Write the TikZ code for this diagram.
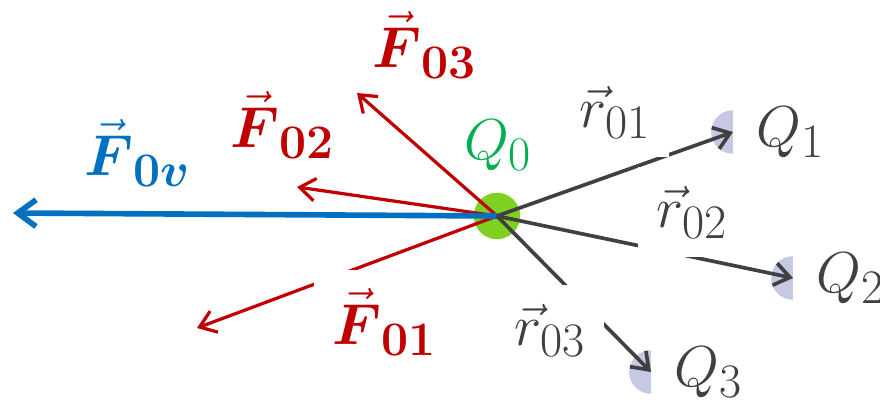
\documentclass[tikz,border=0pt]{standalone}
\usepackage{amsmath}
\usepackage{tikz}
\usetikzlibrary{arrows.meta}
\usepackage{xcolor}
\definecolor{myred}{RGB}{192, 0, 0}
\definecolor{myblue}{RGB}{0, 112, 192}
\definecolor{mygreen}{RGB}{0, 176, 80}
\definecolor{mylime}{RGB}{126, 208, 33}
\definecolor{mygray}{RGB}{64, 64, 64}
\definecolor{mylav}{RGB}{197, 201, 228}

\begin{document}
\begin{tikzpicture}[x=0.025cm, y=-0.025cm,
  lbl/.style={font=\Huge, scale=1.65, inner sep=0pt},
  lblw/.style={font=\Huge, scale=1.65, fill=white, inner sep=8pt},
  force/.style={draw=myred, line width=2.3pt, -{Straight Barb[length=11pt,width=16pt]}},
  dist/.style={draw=mygray, line width=2.6pt, -{Straight Barb[length=11pt,width=16pt]}},
  charge/.style={circle, fill=mylav, minimum size=31pt, inner sep=0pt}]

\useasboundingbox (0,0) rectangle (880,407);

% charges
\node[circle, fill=mylime, minimum size=33pt, inner sep=0pt] (q0) at (497,216) {};
\node[charge] (q1) at (733,132) {};
\node[charge] (q2) at (793,278) {};
\node[charge] (q3) at (651,372) {};

% tips of the forces
\coordinate (f0v) at (13,213);
\coordinate (f01) at (197,328);
\coordinate (f02) at (297,187);
\coordinate (f03) at (357,93);

\draw[force] (q0.center) -- (f01);
\draw[force] (q0.center) -- (f02);
\draw[force] (q0.center) -- (f03);
\draw[draw=myblue, line width=4pt, -{Straight Barb[length=13pt,width=19pt]}] (q0.center) -- (f0v);

\draw[dist] (q0.center) -- (q1.center);
\draw[dist] (q0.center) -- (q2.center);
\draw[dist] (q0.center) -- (q3.center);

% labels
\node[lbl, text=myred] (lf03) at (425,45) {$\vec{\boldsymbol{F}}_{\mathbf{03}}$};
\node[lbl, text=myred] (lf02) at (283,125) {$\vec{\boldsymbol{F}}_{\mathbf{02}}$};
\node[lbl, text=myblue] (lf0v) at (138,153) {$\vec{\boldsymbol{F}}_{\mathbf{0}\boldsymbol{v}}$};
\node[lblw, text=myred] (lf01) at (385,322) {$\vec{\boldsymbol{F}}_{\mathbf{01}}$};
\node[lbl, text=mygreen] (lq0) at (498,145) {$Q_0$};

\node[lblw, text=mygray] (lr01) at (615,112) {$\vec{r}_{01}$};
\node[lblw, text=mygray] (lr02) at (692,212) {$\vec{r}_{02}$};
\node[lblw, text=mygray] (lr03) at (550,330) {$\vec{r}_{03}$};

\node[lblw, text=mygray, anchor=west, inner xsep=10pt] (lq1) at (q1.center) {$Q_1$};
\node[lblw, text=mygray, anchor=west, inner xsep=10pt] (lq2) at (q2.center) {$Q_2$};
\node[lblw, text=mygray, anchor=west, inner xsep=10pt] (lq3) at (q3.center) {$Q_3$};

\end{tikzpicture}
\end{document}
